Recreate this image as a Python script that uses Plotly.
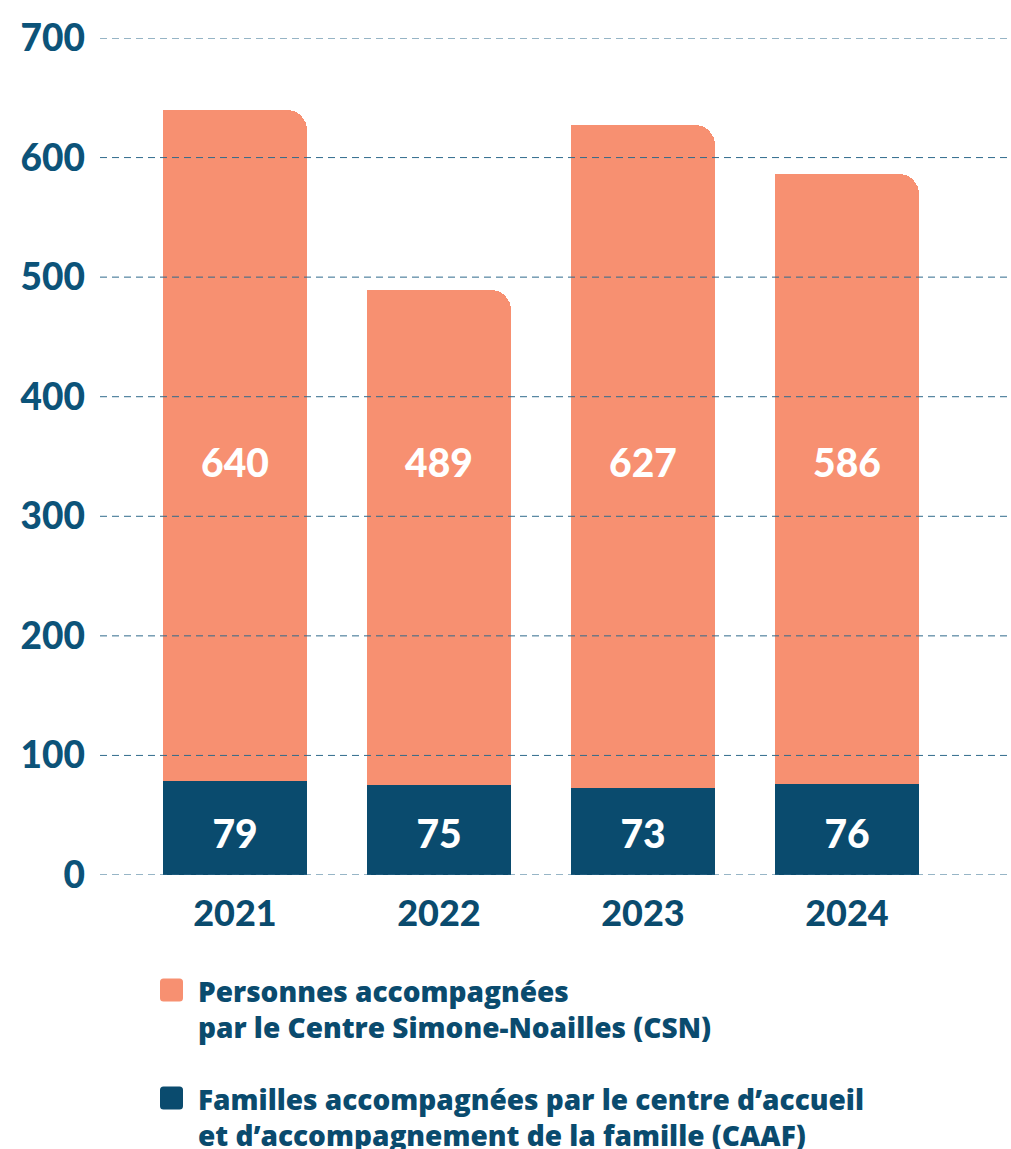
import plotly.graph_objects as go

# Values per year
years = ["2021", "2022", "2023", "2024"]
csn_people = [640, 489, 627, 586]      # Personnes accompagnées par le CSN
caaf_families = [79, 75, 73, 76]       # Familles accompagnées par le CAAF
y_ticks = [0, 100, 200, 300, 400, 500, 600, 700]

ORANGE = "#F79071"
NAVY = "#0A4B6E"
TICK_BLUE = "#0C5379"
GRID_BLUE = "#2F6A8C"
FONT = "Lato"
LEGEND_FONT = "Open Sans"

# Layout constants
W, H = 1011, 1149
M_L, M_R, M_T, M_B = 100, 0, 38, 274
BAR_W = 0.71
CSN_LABEL_Y = 341
CAAF_LABEL_Y = 31

fig = go.Figure()

# Orange bars: rounded top corners
fig.add_trace(go.Bar(
    x=years, y=csn_people, width=BAR_W,
    marker=dict(color=ORANGE, cornerradius=20, line=dict(width=0)),
    showlegend=False, hoverinfo="x+y",
))
# Left half with square corner, so only the top-right corner stays rounded
fig.add_trace(go.Bar(
    x=years, y=csn_people, width=BAR_W / 2, offset=-BAR_W / 2,
    marker=dict(color=ORANGE, cornerradius=0, line=dict(width=0)),
    showlegend=False, hoverinfo="skip",
))
# Navy bars drawn over the orange ones
fig.add_trace(go.Bar(
    x=years, y=caaf_families, width=BAR_W,
    marker=dict(color=NAVY, cornerradius=0, line=dict(width=0)),
    showlegend=False, hoverinfo="x+y",
))

# Value labels
label_font = dict(family=FONT, size=39, color="white", weight=900)
fig.add_trace(go.Scatter(
    x=years, y=[CSN_LABEL_Y] * len(years), mode="text",
    text=[str(v) for v in csn_people], textfont=label_font,
    showlegend=False, hoverinfo="skip", cliponaxis=False,
))
fig.add_trace(go.Scatter(
    x=years, y=[CAAF_LABEL_Y] * len(years), mode="text",
    text=[str(v) for v in caaf_families], textfont=label_font,
    showlegend=False, hoverinfo="skip", cliponaxis=False,
))

# Dashed gridlines on top of the bars
shapes = []
for t in y_ticks:
    shapes.append(dict(
        type="line", xref="paper", yref="y", x0=0, x1=1, y0=t, y1=t,
        line=dict(color=GRID_BLUE, width=1, dash="7px,5px"), layer="above",
    ))

# Legend: rounded swatches + two-line labels
plot_w = W - M_L - M_R
plot_h = H - M_T - M_B


def px_x(p):
    return (p - M_L) / plot_w


def px_y(p):
    return (H - M_B - p) / plot_h


def rounded_square(size, r):
    h = size / 2
    return (f"M {-h + r},{-h} L {h - r},{-h} Q {h},{-h} {h},{-h + r} "
            f"L {h},{h - r} Q {h},{h} {h - r},{h} L {-h + r},{h} "
            f"Q {-h},{h} {-h},{h - r} L {-h},{-h + r} Q {-h},{-h} {-h + r},{-h} Z")


legend_items = [
    (ORANGE, "Personnes accompagnées<br>par le Centre Simone-Noailles (CSN)", 990),
    (NAVY, "Familles accompagnées par le centre d’accueil<br>et d’accompagnement de la famille (CAAF)", 1098),
]
annotations = []
for color, label, cy in legend_items:
    shapes.append(dict(
        type="path", xref="paper", yref="paper",
        xsizemode="pixel", ysizemode="pixel",
        xanchor=px_x(171.5), yanchor=px_y(cy),
        path=rounded_square(23, 3.5),
        fillcolor=color, line=dict(width=0), layer="above",
    ))
    annotations.append(dict(
        xref="paper", yref="paper", x=px_x(196), y=px_y(cy + 19),
        xanchor="left", yanchor="middle", align="left", showarrow=False,
        text=label,
        font=dict(family=LEGEND_FONT, size=28, color=NAVY, weight=800),
    ))

fig.update_layout(
    width=W, height=H,
    margin=dict(l=M_L, r=M_R, t=M_T, b=M_B),
    paper_bgcolor="white", plot_bgcolor="white",
    barmode="overlay", bargap=0,
    shapes=shapes, annotations=annotations,
    showlegend=False,
)
fig.update_xaxes(
    type="category", range=[-(235 - M_L) / 204, -(235 - M_L) / 204 + plot_w / 204],
    showgrid=False, zeroline=False, showline=False, ticks="",
    ticklabelstandoff=14,
    tickfont=dict(family=FONT, size=36, color=NAVY, weight=900),
)
fig.update_yaxes(
    range=[0, 700], tickvals=y_ticks, showgrid=False, zeroline=False,
    showline=False, ticks="", ticklabelstandoff=14,
    tickfont=dict(family=FONT, size=37, color=TICK_BLUE, weight=900),
)

fig.write_html("out.html")
